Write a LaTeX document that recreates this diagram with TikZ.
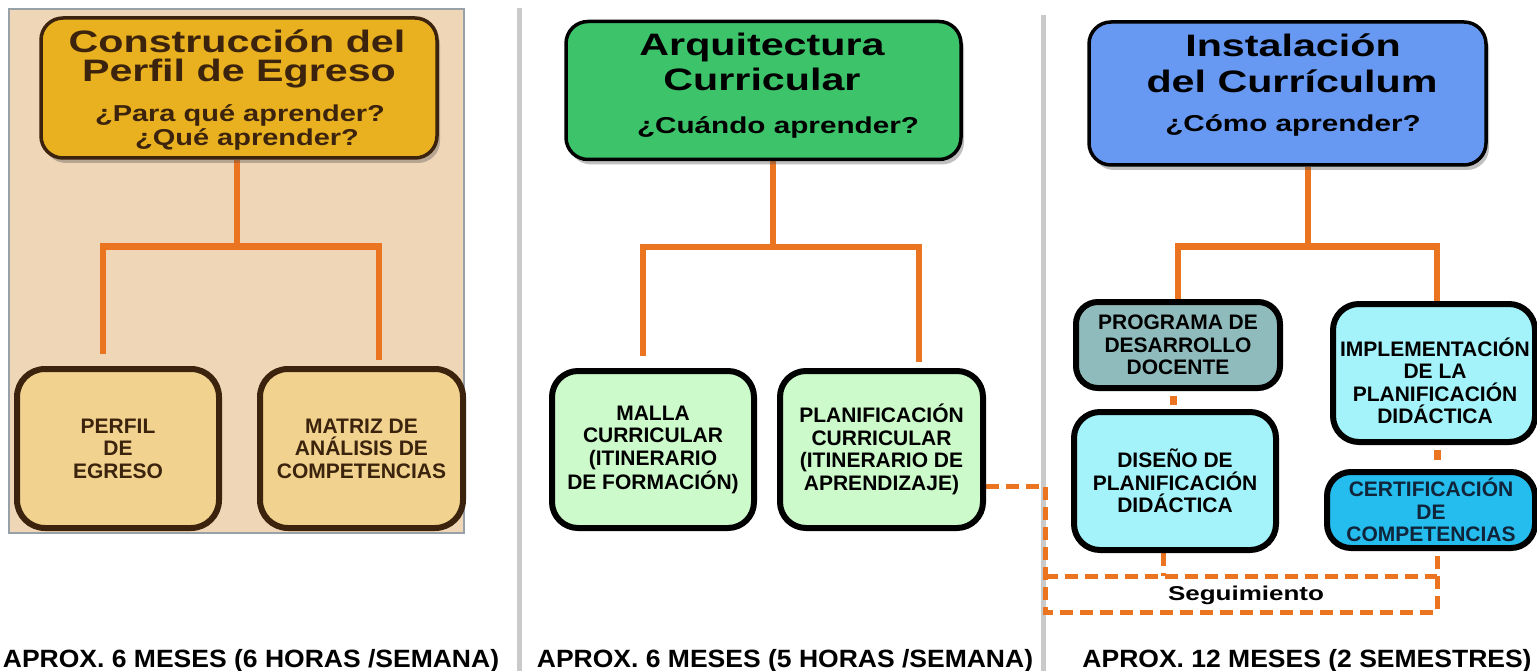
\documentclass[tikz,border=0pt]{standalone}
\usepackage{fontspec}
\setmainfont{Liberation Sans}
\usetikzlibrary{shadows,backgrounds}
\definecolor{tanbg}{HTML}{EFD6B7}
\definecolor{gold}{HTML}{E9B11F}
\definecolor{brownd}{HTML}{3B230D}
\definecolor{tanbox}{HTML}{F1D38F}
\definecolor{greent}{HTML}{3DC46B}
\definecolor{lgreen}{HTML}{CCFACB}
\definecolor{bluet}{HTML}{6899F2}
\definecolor{tealb}{HTML}{90BBBC}
\definecolor{cyanb}{HTML}{A5F3FA}
\definecolor{certb}{HTML}{25BDEE}
\definecolor{certt}{HTML}{10243A}
\definecolor{orng}{HTML}{EA7420}
\definecolor{sepgray}{HTML}{CACACA}
\definecolor{pborder}{HTML}{98A0A8}
\newcommand{\stretchx}[2]{\scalebox{#1}[1]{#2}}
\begin{document}
\begin{tikzpicture}[x=1pt,y=-1pt,
  titlebox/.style={draw, line width=3.5pt, rounded corners=22pt, inner sep=0pt,
    drop shadow={shadow xshift=3pt, shadow yshift=-5pt, opacity=0.35, fill=black!70}},
  innerbox/.style={draw, line width=6pt, rounded corners=26pt, inner sep=0pt,
    align=center, font=\fontsize{21}{22.5}\selectfont\bfseries},
  boxtxt/.style={inner sep=0pt, align=center, font=\fontsize{21}{22.5}\selectfont\bfseries},
  ttl/.style={inner sep=0pt, anchor=base, font=\fontsize{31}{33}\selectfont\bfseries},
  sub/.style={inner sep=0pt, anchor=base, font=\fontsize{23}{25}\selectfont\bfseries},
  foot/.style={inner sep=0pt, anchor=base, font=\fontsize{25}{27}\selectfont\bfseries},
  conn/.style={draw=orng, line width=6.5pt},
  dconn/.style={draw=orng, line width=5pt, dash pattern=on 13pt off 7pt},
  sep/.style={draw=sepgray, line width=5pt}]
\useasboundingbox (0,0) rectangle (1537,671);

% ---------- panel 1 ----------
\node[titlebox, fill=gold, draw=brownd, minimum width=396pt, minimum height=140pt] (t1) at (239,88) {};
\node[ttl, text=brownd] (t1a) at (237,53) {\stretchx{1.33}{Construcción del}};
\node[ttl, text=brownd] (t1b) at (239,82) {\stretchx{1.33}{Perfil de Egreso}};
\node[sub, text=brownd] (t1c) at (240,122) {\stretchx{1.26}{¿Para qué aprender?}};
\node[sub, text=brownd] (t1d) at (247,146) {\stretchx{1.26}{¿Qué aprender?}};

\node[innerbox, fill=tanbox, draw=brownd, text=brownd, rounded corners=28pt,
  minimum width=202pt, minimum height=159pt] (b1) at (118,448.5) {PERFIL\\DE\\EGRESO};
\node[innerbox, fill=tanbox, draw=brownd, text=brownd, rounded corners=28pt,
  minimum width=203pt, minimum height=159pt] (b2) at (361.5,448.5) {MATRIZ DE\\ANÁLISIS DE\\COMPETENCIAS};

% ---------- panel 2 ----------
\node[titlebox, fill=greent, draw=black, minimum width=395pt, minimum height=138pt] (t2) at (763.5,90.5) {};
\node[ttl] (t2a) at (762,56) {\stretchx{1.33}{Arquitectura}};
\node[ttl] (t2b) at (762,91) {\stretchx{1.33}{Curricular}};
\node[sub] (t2c) at (778,134) {\stretchx{1.29}{¿Cuándo aprender?}};

\node[innerbox, fill=lgreen, draw=black, minimum width=202pt, minimum height=157pt] (m1) at (653,449.5)
  {MALLA\\CURRICULAR\\(ITINERARIO\\DE FORMACIÓN)};
\node[innerbox, fill=lgreen, draw=black, minimum width=203pt, minimum height=157pt] (m2) at (881.5,449.5)
  {PLANIFICACIÓN\\CURRICULAR\\(ITINERARIO DE\\APRENDIZAJE)};

% ---------- panel 3 ----------
\node[titlebox, fill=bluet, draw=black, minimum width=397pt, minimum height=143pt] (t3) at (1287.5,93.5) {};
\node[ttl] (t3a) at (1293,57) {\stretchx{1.33}{Instalación}};
\node[ttl] (t3b) at (1292,93) {\stretchx{1.33}{del Currículum}};
\node[sub] (t3c) at (1293,132) {\stretchx{1.29}{¿Cómo aprender?}};

\node[innerbox, fill=tealb, draw=black, rounded corners=22pt, minimum width=204pt, minimum height=86pt] (c1) at (1178,345)
  {PROGRAMA DE\\DESARROLLO\\DOCENTE};
\node[innerbox, fill=cyanb, draw=black, minimum width=202pt, minimum height=138pt] (c2) at (1175,481)
  {DISEÑO DE\\PLANIFICACIÓN\\DIDÁCTICA};
\node[innerbox, fill=cyanb, draw=black, minimum width=202pt, minimum height=138pt] (c3) at (1434,373) {};
\node[boxtxt] (c3t) at (1435,381) {IMPLEMENTACIÓN\\DE LA\\PLANIFICACIÓN\\DIDÁCTICA};
\node[innerbox, fill=certb, draw=black, text=certt, rounded corners=24pt, minimum width=208pt, minimum height=76pt] (c4) at (1431,510)
  {CERTIFICACIÓN\\DE\\COMPETENCIAS};

\node[inner sep=0pt, anchor=base, font=\fontsize{20}{22}\selectfont\bfseries] (seg) at (1246,600) {\stretchx{1.3}{Seguimiento}};

% ---------- footers ----------
\node[foot] (f1) at (251,667) {\stretchx{1.06}{APROX. 6 MESES (6 HORAS /SEMANA)}};
\node[foot] (f2) at (785,667) {\stretchx{1.06}{APROX. 6 MESES (5 HORAS /SEMANA)}};
\node[foot] (f3) at (1307,667) {\stretchx{1.06}{APROX. 12 MESES (2 SEMESTRES)}};

% ---------- background: panel, separators, connectors ----------
\begin{scope}[on background layer]
  \fill[white] (0,0) rectangle (1537,671);
  \draw[fill=tanbg, draw=pborder, line width=1.5pt] (9,9) rectangle (464,533);
  \draw[sep] (519,8) -- (519,671);
  \draw[sep] (1043,15) -- (1043,671);

  % panel 1 tree
  \draw[conn] ([xshift=-2pt]t1.south) -- ++(0,87) coordinate (j1);
  \draw[conn] ([xshift=-15pt,yshift=12pt]b1.north) |- (j1) -| ([xshift=17.5pt,yshift=6pt]b2.north);
  % panel 2 tree
  \draw[conn] ([xshift=9.5pt]t2.south) -- ++(0,86) coordinate (j2);
  \draw[conn] ([xshift=-10pt,yshift=12pt]m1.north) |- (j2) -| ([xshift=37.5pt,yshift=6pt]m2.north);
  % panel 3 tree
  \draw[conn] ([xshift=20.5pt]t3.south) -- ++(0,80) coordinate (j3);
  \draw[conn] (c1.north) |- (j3) -| ([xshift=3pt]c3.north);
  \draw[conn, line width=7pt, shorten <=5pt, shorten >=4pt] ([xshift=-5pt]c1.south) -- ([xshift=-5pt]c1.south |- c2.north);
  \draw[conn, line width=7pt, shorten <=5pt, shorten >=9pt] ([xshift=3pt]c3.south) -- ([xshift=3pt]c3.south |- c4.north);

  % seguimiento loop
  \coordinate (sA) at (1045,486);
  \coordinate (sB) at (1045,612);
  \coordinate (sC) at (1437,612);
  \coordinate (sD) at (1045,576);
  \coordinate (sE) at (1437,576);
  \draw[dconn] ([yshift=-36.5pt]m2.east) -- (sA) -- (sB) -- (sC) -- (sC |- c4.south);
  \draw[dconn] (sD) -- (sE);
  \draw[dconn] ([xshift=-12pt]c2.south) -- ([xshift=-12pt]c2.south |- sD);
\end{scope}
\end{tikzpicture}
\end{document}
